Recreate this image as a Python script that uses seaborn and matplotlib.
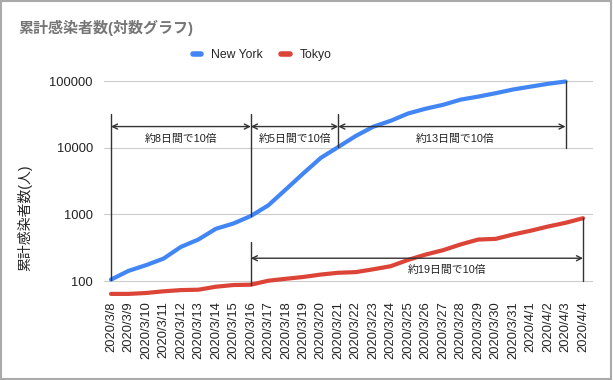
import matplotlib
matplotlib.use("Agg")
import matplotlib.pyplot as plt
import numpy as np
import pandas as pd
import seaborn as sns
from matplotlib.lines import Line2D
from matplotlib.patches import Rectangle

sns.set_style("white")
plt.rcParams['font.family'] = ['Liberation Sans', 'Noto Sans CJK JP', 'DejaVu Sans']

dates = ["2020/3/8", "2020/3/9", "2020/3/10", "2020/3/11", "2020/3/12", "2020/3/13",
         "2020/3/14", "2020/3/15", "2020/3/16", "2020/3/17", "2020/3/18", "2020/3/19",
         "2020/3/20", "2020/3/21", "2020/3/22", "2020/3/23", "2020/3/24", "2020/3/25",
         "2020/3/26", "2020/3/27", "2020/3/28", "2020/3/29", "2020/3/30", "2020/3/31",
         "2020/4/1", "2020/4/2", "2020/4/3", "2020/4/4"]

new_york = [105, 142, 173, 217, 326, 421, 610, 732, 950, 1374, 2382, 4152, 7102,
            10356, 15168, 20875, 25665, 33066, 38987, 44635, 53363, 59219, 66663,
            75795, 83712, 92381, 100000, np.nan]

tokyo = [64, 64, 66, 70, 73, 74, 82, 87, 88, 101, 108, 115, 125, 133, 136, 150,
         167, 208, 250, 291, 355, 420, 430, 500, 570, 660, 750, 880]

# (start index, end index, y of arrow, label, label x, label y)
spans = [(0, 8, 21000, "約8日間で10倍", 4, 13500),
         (8, 13, 21000, "約5日間で10倍", 10.5, 13500),
         (13, 26, 21000, "約13日間で10倍", 19.7, 13500),
         (8, 27, 220, "約19日間で10倍", 19.2, 145)]

# vertical guide lines: (index, y bottom, y top)
guides = [(0, 105, 33000), (8, 950, 33000), (13, 10356, 33000),
          (26, 10000, 100000), (8, 88, 390), (27, 100, 880)]

df = pd.DataFrame({"x": list(range(len(dates))) * 2,
                   "cases": new_york + tokyo,
                   "city": ["New York"] * len(dates) + ["Tokyo"] * len(dates)})

colors = {"New York": "#4285F4", "Tokyo": "#DB4437"}

fig = plt.figure(figsize=(6.13, 3.80), dpi=100)
ax = fig.add_axes([104/613, 1-296/380, (593-104)/613, (296-79)/380])

sns.lineplot(data=df, x="x", y="cases", hue="city", palette=colors, linewidth=3.0,
             ax=ax, legend=False, zorder=3)

ax.set_yscale("log")
ax.set_ylim(59.5, 109000)
ax.set_xlim(-0.4, 27.57)
ax.set_yticks([100, 1000, 10000, 100000])
ax.set_yticklabels(["100", "1000", "10000", "100000"])
ax.minorticks_off()
ax.set_xticks(range(len(dates)))
ax.set_xticklabels(dates, rotation=90)
ax.tick_params(axis="x", labelsize=9.3, colors="#222222", length=0, pad=4)
ax.tick_params(axis="y", labelsize=9.3, colors="#222222", length=0, pad=8)
ax.grid(axis="y", color="#cccccc", linewidth=0.8)
ax.grid(axis="x", visible=False)
for s in ax.spines.values():
    s.set_visible(False)
ax.set_xlabel("")
ax.set_ylabel("")

for x, y0, y1 in guides:
    ax.plot([x, x], [y0, y1], color="#333333", linewidth=1.0, zorder=4)

for x0, x1, y, label, lx, ly in spans:
    ax.annotate("", xy=(x1, y), xytext=(x0, y),
                arrowprops=dict(arrowstyle="<->", color="#333333", lw=1.0,
                                shrinkA=0, shrinkB=0, mutation_scale=9))
    ax.text(lx, ly, label, ha="center", va="center", fontsize=7.8, color="#222222")

fig.text(18/613, 1-28/380, "累計感染者数(対数グラフ)", fontsize=10.8, fontweight="bold",
         color="#757575", ha="left", va="center")
fig.text(25/613, 1-218/380, "累計感染者数(人)", rotation=90, fontsize=10,
         color="#222222", ha="center", va="center")

handles = [Line2D([], [], color=colors[c], linewidth=4) for c in ["New York", "Tokyo"]]
fig.legend(handles, ["New York", "Tokyo"], loc="center", bbox_to_anchor=(262/613, 1-55/380),
           ncol=2, frameon=False, fontsize=8.8, handlelength=0.7, handletextpad=0.8,
           columnspacing=1.5)

fig.patches.append(Rectangle((0.001, 0.002), 0.996, 0.996, transform=fig.transFigure,
                             fill=False, edgecolor="#aaaaaa", linewidth=1.5))

fig.savefig("out.png", dpi=100)
